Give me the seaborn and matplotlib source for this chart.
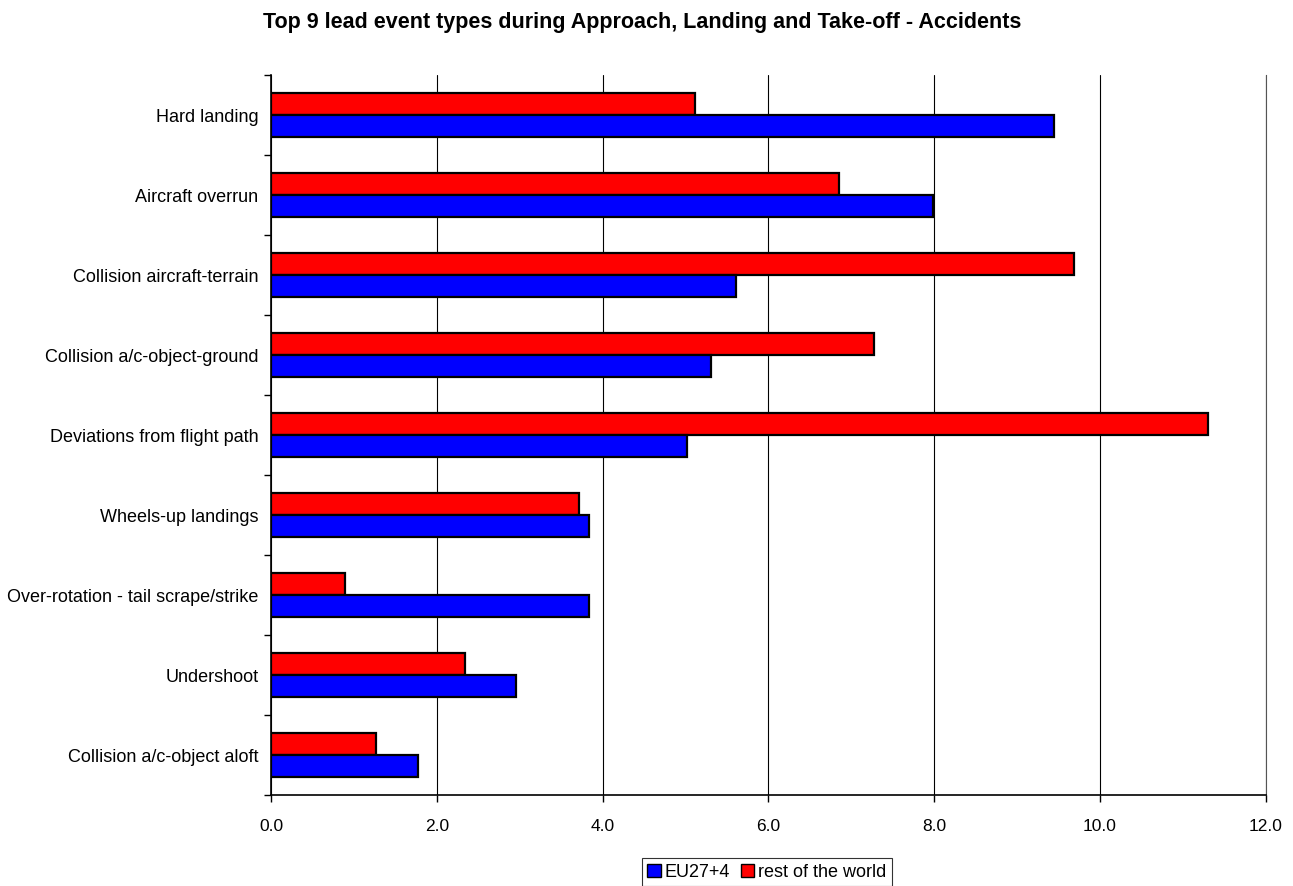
# Top 9 lead event types - ALA accidents
import pandas as pd
import matplotlib.pyplot as plt
import seaborn as sns
from matplotlib.patches import Patch
from matplotlib.ticker import MultipleLocator, FixedLocator

categories = ['Hard landing', 'Aircraft overrun', 'Collision aircraft-terrain',
              'Collision a/c-object-ground', 'Deviations from flight path',
              'Wheels-up landings', 'Over-rotation - tail scrape/strike',
              'Undershoot', 'Collision a/c-object aloft']
eu_values = [9.45, 7.98, 5.61, 5.31, 5.02, 3.84, 3.84, 2.95, 1.77]
row_values = [5.12, 6.85, 9.68, 7.27, 11.30, 3.71, 0.89, 2.34, 1.27]
series = ['EU27+4', 'rest of the world']
colors = {'EU27+4': '#0000ff', 'rest of the world': '#ff0000'}

df = pd.DataFrame({
    'event': categories * 2,
    'value': eu_values + row_values,
    'region': [series[0]] * len(categories) + [series[1]] * len(categories),
})

sns.set_style('white')
plt.rcParams['font.family'] = ['Liberation Sans', 'DejaVu Sans']
plt.rcParams['text.color'] = 'black'
plt.rcParams['xtick.color'] = 'black'
plt.rcParams['ytick.color'] = 'black'

fig = plt.figure(figsize=(12.93, 8.86), dpi=100)
ax = fig.add_axes([0.2096, 0.1027, 0.7694, 0.8126])

# red on top of each pair, blue below
sns.barplot(data=df, y='event', x='value', hue='region', orient='h',
            order=categories, hue_order=['rest of the world', 'EU27+4'],
            palette=colors, saturation=1, width=0.56, edgecolor='black', linewidth=1.6,
            legend=False, ax=ax)

ax.set_xlim(0, 12)
ax.set_ylim(len(categories) - 0.5, -0.5)
ax.xaxis.set_major_locator(MultipleLocator(2))
ax.xaxis.set_major_formatter(lambda v, p: f'{v:.1f}')
ax.grid(axis='x', color='black', linewidth=0.8)
ax.set_axisbelow(True)

# tick marks between the groups, labels at the groups
ax.yaxis.set_minor_locator(FixedLocator([i - 0.5 for i in range(len(categories) + 1)]))
ax.tick_params(axis='y', which='major', length=0, pad=9, labelsize=13)
ax.tick_params(axis='y', which='minor', length=5, width=1, color='black', direction='out', left=True)
ax.tick_params(axis='x', length=5, width=1, color='black', direction='out', bottom=True,
               labelsize=12.5, pad=12)

ax.spines['top'].set_visible(False)
ax.spines['right'].set_color('#555555')
ax.spines['right'].set_linewidth(0.8)
for side in ['left', 'bottom']:
    ax.spines[side].set_color('black')
    ax.spines[side].set_linewidth(1.2)

ax.set_xlabel('')
ax.set_ylabel('')

handles = [Patch(facecolor=colors[s], edgecolor='black', label=s) for s in series]
leg = fig.legend(handles=handles, loc='lower center', bbox_to_anchor=(0.593, 0.0), ncol=2,
                 frameon=True, fancybox=False, edgecolor='black', fontsize=13,
                 handlelength=0.75, handleheight=0.75, handletextpad=0.2, columnspacing=0.6,
                 borderpad=0.3, borderaxespad=0.0)
leg.get_frame().set_linewidth(0.8)

fig.text(0.4965, 0.975, 'Top 9 lead event types during Approach, Landing and Take-off - Accidents',
         ha='center', va='center', fontsize=15.5, fontweight='bold')

plt.savefig('out.png', dpi=100)
